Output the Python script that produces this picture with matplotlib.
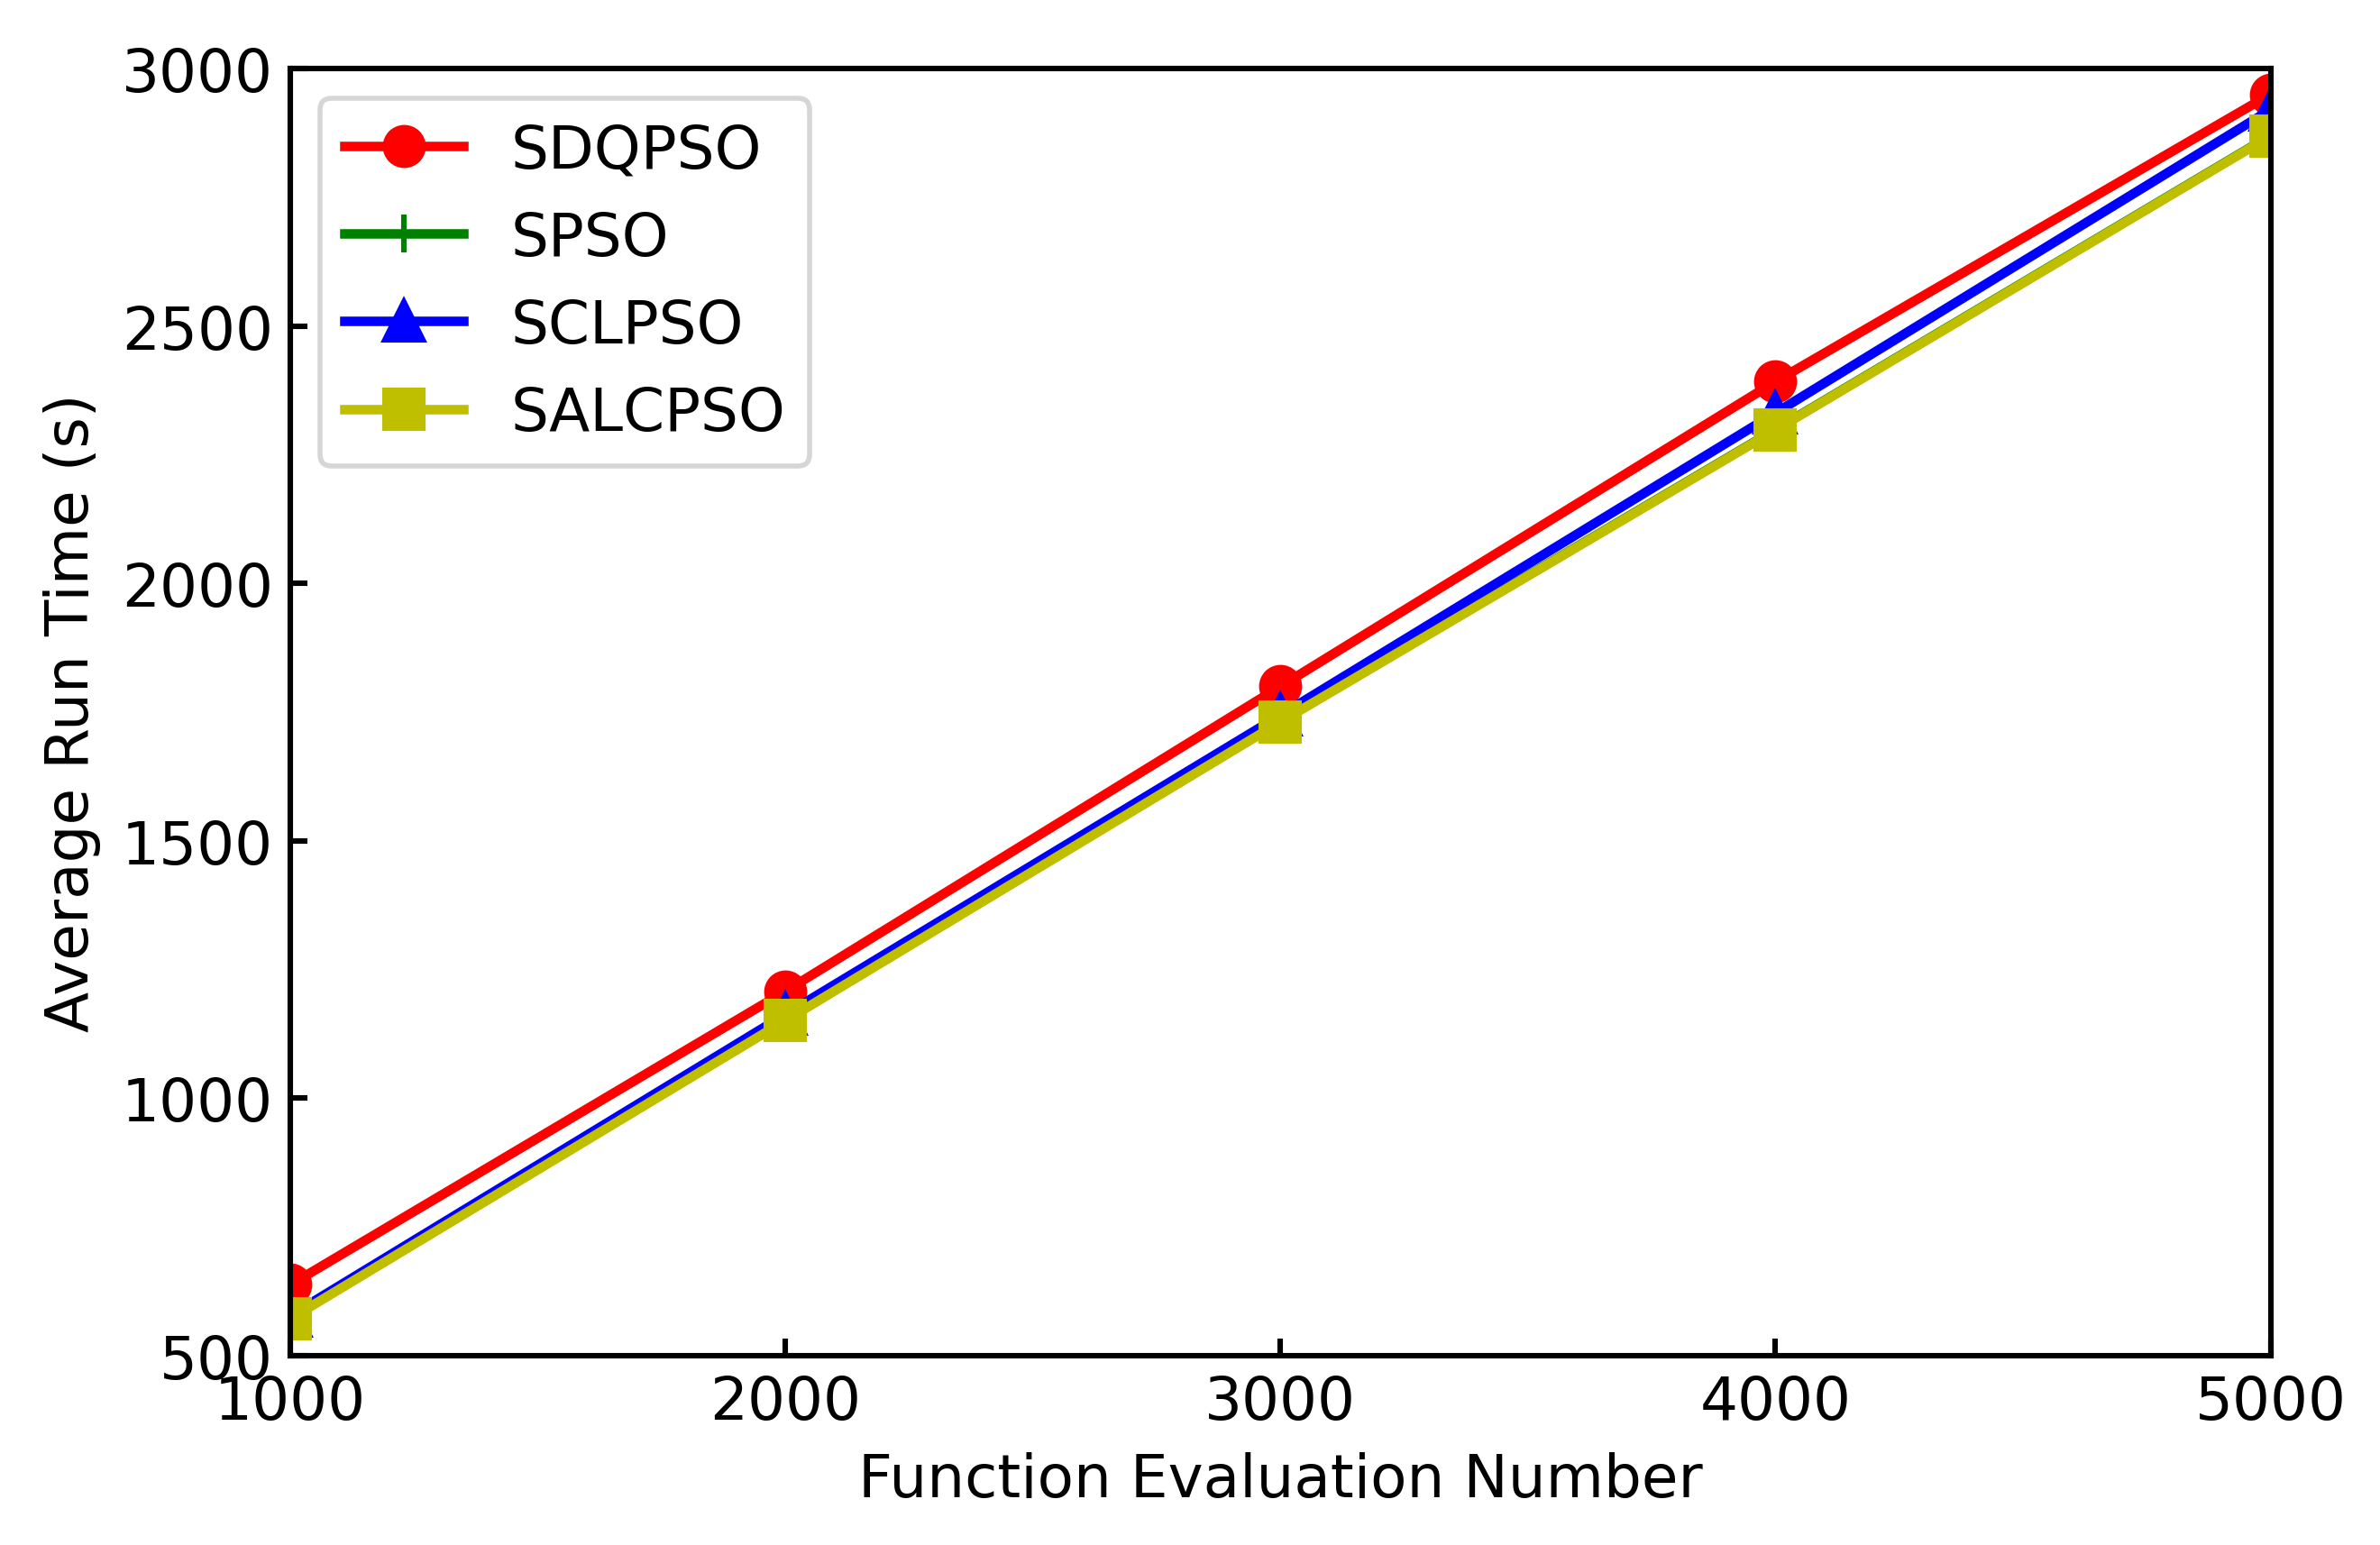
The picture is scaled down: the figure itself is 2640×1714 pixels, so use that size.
import matplotlib
matplotlib.use("Agg")
import matplotlib.pyplot as plt

evals = [1000, 2000, 3000, 4000, 5000]
sdqpso = [638, 1208, 1800, 2392, 2950]
spso = [573, 1152, 1732, 2299, 2870]
sclpso = [578, 1163, 1744, 2331, 2920]
salcpso = [572, 1151, 1731, 2298, 2869]

x_ticks = [1000, 2000, 3000, 4000, 5000]
y_ticks = [500, 1000, 1500, 2000, 2500, 3000]

plt.rcParams["font.size"] = 11.9
plt.rcParams["axes.linewidth"] = 1.1

fig = plt.figure(figsize=(6.6, 4.2875), dpi=400)
ax = fig.add_axes([0.122, 0.1224, 0.832, 0.8327])

lw = 1.9
ms = 7.5
ax.plot(evals, sdqpso, color="r", marker="o", lw=lw, ms=ms, mew=1.1, label="SDQPSO")
ax.plot(evals, spso, color="g", marker="+", lw=lw, ms=ms, mew=1.1, label="SPSO")
ax.plot(evals, sclpso, color="b", marker="^", lw=lw, ms=ms, mew=1.1, label="SCLPSO")
ax.plot(evals, salcpso, color="y", marker="s", lw=lw, ms=ms, mew=1.1, label="SALCPSO")

ax.set_xlim(1000, 5000)
ax.set_ylim(500, 3000)
ax.set_xticks(x_ticks)
ax.set_yticks(y_ticks)
ax.tick_params(direction="in", width=1.1)
ax.set_xlabel("Function Evaluation Number")
ax.set_ylabel("Average Run Time (s)")
ax.legend(loc="upper left")

fig.savefig("out.png", dpi=400)
